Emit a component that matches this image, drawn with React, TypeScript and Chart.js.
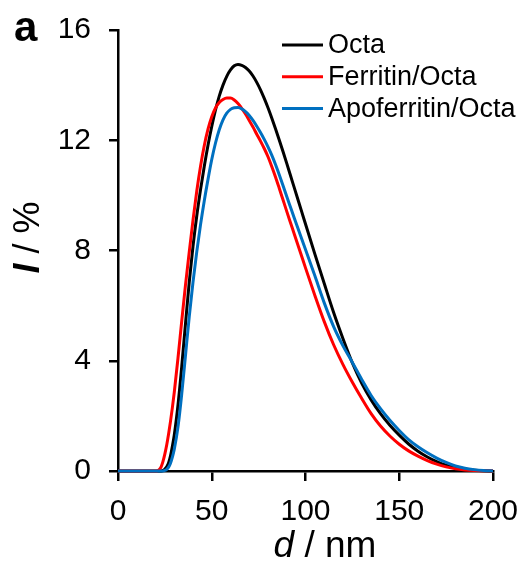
import React, { useEffect, useRef } from "react";
import { Chart, registerables } from "chart.js";

Chart.register(...registerables);

const diameters = [
  0, 20, 21, 22, 23, 24, 25, 26, 27, 28, 29, 30, 32, 34, 36, 38, 40, 42, 44, 46, 48, 50,
  52, 54, 56, 58, 60, 62, 64, 66, 68, 70, 72, 74, 76, 78, 80, 82, 84, 86, 88, 90, 92, 94,
  96, 98, 100, 105, 110, 115, 120, 125, 130, 135, 140, 145, 150, 155, 160, 165, 170, 175,
  180, 185, 190, 195, 200,
];

const octa = [
  0, 0, 0, 0, 0, 0.02, 0.07, 0.15, 0.3, 0.55, 0.9, 1.3, 2.4, 3.8, 5.35, 6.85, 8.15, 9.25,
  10.2, 11.05, 11.82, 12.5, 13.1, 13.6, 14.0, 14.32, 14.55, 14.7, 14.75, 14.72, 14.64,
  14.51, 14.33, 14.1, 13.83, 13.52, 13.18, 12.81, 12.42, 12.01, 11.59, 11.16, 10.72, 10.28,
  9.84, 9.4, 8.96, 7.87, 6.8, 5.75, 4.8, 3.92, 3.18, 2.58, 2.08, 1.66, 1.3, 0.98, 0.72, 0.51,
  0.34, 0.21, 0.12, 0.06, 0.03, 0.01, 0,
];

const ferritinOcta = [
  0, 0, 0.01, 0.05, 0.15, 0.35, 0.62, 0.95, 1.35, 1.8, 2.3, 2.85, 4.1, 5.45, 6.75, 7.95, 9.1,
  10.15, 11.05, 11.8, 12.4, 12.85, 13.17, 13.37, 13.48, 13.53, 13.53, 13.46, 13.33, 13.16,
  12.95, 12.72, 12.48, 12.22, 11.97, 11.7, 11.4, 11.05, 10.67, 10.26, 9.84, 9.42, 9.01, 8.6,
  8.19, 7.78, 7.37, 6.37, 5.42, 4.58, 3.86, 3.22, 2.63, 2.08, 1.63, 1.27, 0.97, 0.73, 0.54,
  0.38, 0.25, 0.15, 0.08, 0.04, 0.02, 0.01, 0,
];

const apoferritinOcta = [
  0, 0, 0, 0, 0, 0, 0.02, 0.06, 0.14, 0.28, 0.5, 0.78, 1.6, 2.8, 4.2, 5.6, 6.85, 7.95, 8.93,
  9.8, 10.58, 11.3, 11.9, 12.38, 12.74, 12.98, 13.12, 13.18, 13.19, 13.14, 13.04, 12.9,
  12.72, 12.51, 12.28, 12.03, 11.76, 11.46, 11.12, 10.75, 10.36, 9.96, 9.57, 9.18, 8.8, 8.42,
  8.04, 7.08, 6.1, 5.24, 4.54, 3.94, 3.32, 2.74, 2.26, 1.84, 1.47, 1.14, 0.88, 0.66, 0.47,
  0.31, 0.18, 0.1, 0.05, 0.02, 0,
];

const seriesNames = ["Octa", "Ferritin/Octa", "Apoferritin/Octa"];
const seriesColors = ["#000000", "#FF0000", "#0070C0"];
const xTicks = [0, 50, 100, 150, 200];
const yTicks = [0, 4, 8, 12, 16];

const FONT = '"Liberation Sans", Arial, sans-serif';

const decorPlugin = {
  id: "decor",
  afterDraw(chart: any) {
    const ctx = chart.ctx as CanvasRenderingContext2D;
    const { left } = chart.chartArea;
    ctx.save();
    // legend
    chart.data.datasets.forEach((ds: any, i: number) => {
      const y = 45 + i * 31.7;
      ctx.strokeStyle = ds.borderColor;
      ctx.lineWidth = 3;
      ctx.beginPath();
      ctx.moveTo(left + 164, y);
      ctx.lineTo(left + 205, y);
      ctx.stroke();
      ctx.fillStyle = "#000";
      ctx.font = `27px ${FONT}`;
      ctx.textBaseline = "middle";
      ctx.textAlign = "left";
      ctx.fillText(ds.label, left + 210, y + 1);
    });
    // panel label
    ctx.font = `bold 42px ${FONT}`;
    ctx.textBaseline = "alphabetic";
    ctx.fillText("a", 14, 41);
    // x title
    const xParts = [
      { t: "d", f: `italic 37px ${FONT}` },
      { t: " / nm", f: `37px ${FONT}` },
    ];
    let w = 0;
    xParts.forEach((p) => {
      ctx.font = p.f;
      w += ctx.measureText(p.t).width;
    });
    let x = 325 - w / 2;
    xParts.forEach((p) => {
      ctx.font = p.f;
      ctx.fillText(p.t, x, 557);
      x += ctx.measureText(p.t).width;
    });
    // y title
    const yParts = [
      { t: "I", f: `italic bold 36px ${FONT}` },
      { t: " / %", f: `36px ${FONT}` },
    ];
    ctx.translate(38.5, 237.5);
    ctx.rotate(-Math.PI / 2);
    w = 0;
    yParts.forEach((p) => {
      ctx.font = p.f;
      w += ctx.measureText(p.t).width;
    });
    x = -w / 2;
    yParts.forEach((p) => {
      ctx.font = p.f;
      ctx.fillText(p.t, x, 0);
      x += ctx.measureText(p.t).width;
    });
    ctx.restore();
  },
};

export default function App() {
  const ref = useRef<HTMLCanvasElement>(null);
  useEffect(() => {
    document.body.style.margin = "0";
    const values = [octa, ferritinOcta, apoferritinOcta];
    const chart = new Chart(ref.current!, {
      type: "line",
      data: {
        datasets: values.map((vals, i) => ({
          label: seriesNames[i],
          data: diameters.map((d, j) => ({ x: d, y: vals[j] })),
          borderColor: seriesColors[i],
          backgroundColor: seriesColors[i],
          borderWidth: 3,
          pointRadius: 0,
          cubicInterpolationMode: "monotone" as const,
          fill: false,
          clip: 6,
          order: 3 - i,
        })),
      },
      options: {
        animation: false,
        responsive: true,
        maintainAspectRatio: false,
        layout: { padding: { left: 0, right: 28, top: 30, bottom: 0 } },
        plugins: { legend: { display: false }, tooltip: { enabled: false } },
        scales: {
          x: {
            type: "linear",
            min: 0,
            max: 200,
            afterBuildTicks: (s: any) => {
              s.ticks = xTicks.map((v) => ({ value: v }));
            },
            afterFit: (s: any) => {
              s.height = 92;
              s.paddingLeft = 0;
              s.paddingRight = 0;
            },
            ticks: { font: { family: FONT, size: 30 }, color: "#000", padding: 13, maxRotation: 0 },
            grid: { drawOnChartArea: false, tickLength: 10, color: "#000", lineWidth: 2.5 },
            border: { color: "#000", width: 2.5 },
          },
          y: {
            type: "linear",
            min: 0,
            max: 16,
            afterBuildTicks: (s: any) => {
              s.ticks = yTicks.map((v) => ({ value: v }));
            },
            afterFit: (s: any) => {
              s.width = 118;
              s.paddingTop = 0;
              s.paddingBottom = 0;
            },
            ticks: { font: { family: FONT, size: 30 }, color: "#000", padding: 18 },
            grid: { drawOnChartArea: false, tickLength: 9, color: "#000", lineWidth: 2.5 },
            border: { color: "#000", width: 2.5 },
          },
        },
      },
      plugins: [decorPlugin],
    });
    return () => chart.destroy();
  }, []);
  return (
    <div style={{ width: 521, height: 563, position: "relative" }}>
      <canvas ref={ref} />
    </div>
  );
}
